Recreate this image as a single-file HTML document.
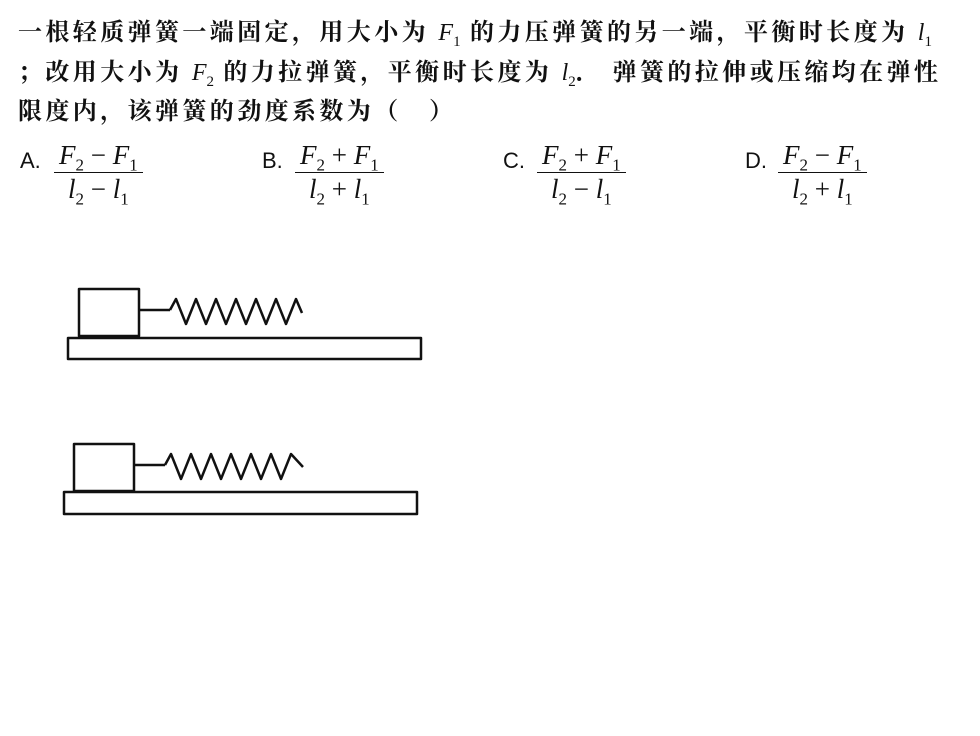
<!DOCTYPE html>
<html><head><meta charset="utf-8"><style>
body{margin:0;width:980px;height:736px;background:#fff;position:relative;overflow:hidden;font-family:"Liberation Serif","Noto Serif CJK SC",serif;color:#111}
.l{position:absolute;left:18px;font-size:24px;font-weight:bold;letter-spacing:3.4px;white-space:nowrap}
.m{font-family:"Liberation Serif",serif;font-style:italic;font-weight:normal;letter-spacing:0}
.m sub{font-style:normal;font-size:15px}
.opt{position:absolute;font-family:"Liberation Sans",sans-serif;font-size:22px;top:148px}
.fr{position:absolute;font-family:"Liberation Serif",serif;font-size:27px;text-align:center;line-height:26px}
.fr .n{border-bottom:1.5px solid #111;padding:0 5px 4px}
.fr .d{padding-top:3px}
i{font-style:italic}
sub{font-size:17px;line-height:0}
</style></head><body>
<div class="l" style="top:12px">一根轻质弹簧一端固定，用大小为 <span class="m">F<sub>1</sub></span> 的力压弹簧的另一端，平衡时长度为 <span class="m">l<sub>1</sub></span></div>
<div class="l" style="top:52px">；改用大小为 <span class="m">F<sub>2</sub></span> 的力拉弹簧，平衡时长度为 <span class="m">l<sub>2</sub></span>． 弹簧的拉伸或压缩均在弹性</div>
<div class="l" style="top:91px">限度内，该弹簧的劲度系数为（　）</div>

<div class="opt" style="left:20px">A.</div>
<div class="fr" style="left:54px;top:142px"><div class="n"><i>F</i><sub>2</sub> − <i>F</i><sub>1</sub></div><div class="d"><i>l</i><sub>2</sub> − <i>l</i><sub>1</sub></div></div>
<div class="opt" style="left:262px">B.</div>
<div class="fr" style="left:295px;top:142px"><div class="n"><i>F</i><sub>2</sub> + <i>F</i><sub>1</sub></div><div class="d"><i>l</i><sub>2</sub> + <i>l</i><sub>1</sub></div></div>
<div class="opt" style="left:503px">C.</div>
<div class="fr" style="left:537px;top:142px"><div class="n"><i>F</i><sub>2</sub> + <i>F</i><sub>1</sub></div><div class="d"><i>l</i><sub>2</sub> − <i>l</i><sub>1</sub></div></div>
<div class="opt" style="left:745px">D.</div>
<div class="fr" style="left:778px;top:142px"><div class="n"><i>F</i><sub>2</sub> − <i>F</i><sub>1</sub></div><div class="d"><i>l</i><sub>2</sub> + <i>l</i><sub>1</sub></div></div>

<svg style="position:absolute;left:0;top:0" width="980" height="736" fill="none" stroke="#111" stroke-width="2.5" stroke-linejoin="round">
<rect x="79" y="289" width="60" height="47"/>
<line x1="139" y1="310" x2="170" y2="310"/>
<polyline points="170,310 176,299 186,324 196,299 206,324 216,299 226,324 236,299 246,324 256,299 266,324 276,299 286,324 296,299 302,313"/>
<rect x="68" y="338" width="353" height="21"/>
<rect x="74" y="444" width="60" height="47"/>
<line x1="134" y1="465" x2="165" y2="465"/>
<polyline points="165,465 171,454 181,479 191,454 201,479 211,454 221,479 231,454 241,479 251,454 261,479 271,454 281,479 291,454 303,467"/>
<rect x="64" y="492" width="353" height="22"/>
</svg>
</body></html>
